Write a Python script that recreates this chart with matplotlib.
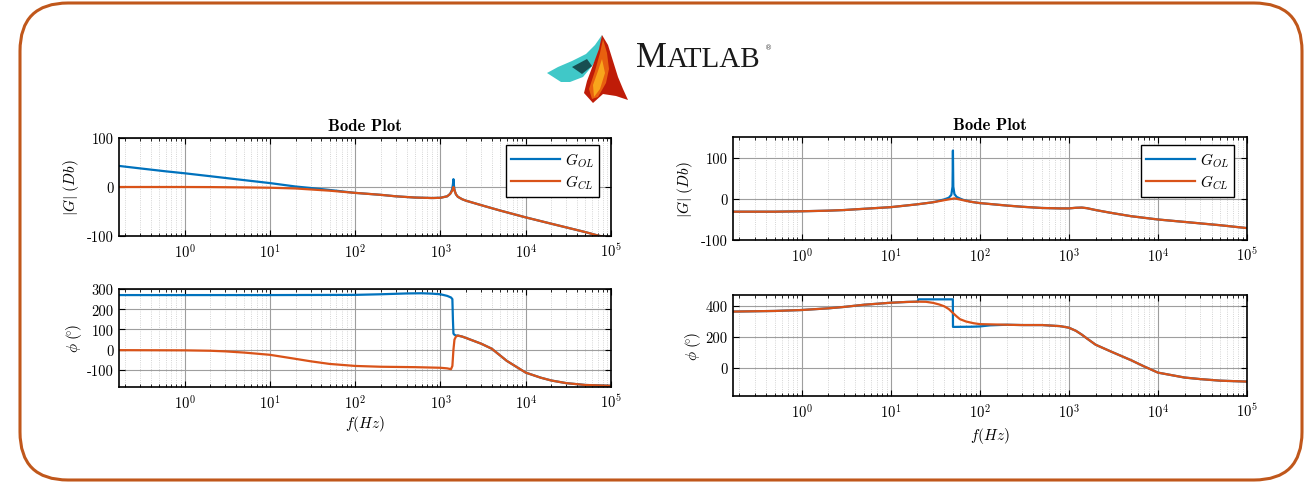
import numpy as np
import matplotlib
matplotlib.use('Agg')
import matplotlib.pyplot as plt
from matplotlib.patches import FancyBboxPatch, Polygon
from matplotlib.ticker import FixedLocator, FuncFormatter, LogLocator, NullFormatter

plt.rcParams['mathtext.fontset'] = 'cm'
plt.rcParams['axes.unicode_minus'] = False
plt.rcParams['font.family'] = 'cmr10'

BLUE = '#0072BD'
ORANGE = '#D95319'

# ---- left panel: magnitude (dB) ----
f_mag_ol_l = [0.17, 0.3, 0.6, 1, 2, 5, 10, 20, 30, 50, 100, 200, 300, 500, 800, 1000,
              1200, 1300, 1370, 1400, 1420, 1440, 1470, 1520, 1600, 1800, 2000, 3000,
              5000, 1e4, 2e4, 5e4, 7e4, 1e5]
mag_ol_l = [43, 38, 32, 28, 22, 14, 8, 1, -2, -6, -12, -16, -19, -21.5, -22.5, -22,
            -19, -14, -5, 5, 16, 3, -8, -15, -20, -25, -28, -37,
            -48, -62, -75, -92, -99, -105]
f_mag_cl_l = [0.17, 1, 2, 5, 10, 20, 30, 50, 100, 200, 300, 500, 800, 1000,
              1200, 1300, 1370, 1400, 1420, 1440, 1470, 1520, 1600, 1800, 2000, 3000,
              5000, 1e4, 2e4, 5e4, 7e4, 1e5]
mag_cl_l = [0, 0, -0.2, -0.8, -1.5, -3, -5, -7.5, -12, -16, -19, -21.5, -22.5, -22,
            -19, -14, -8, -3, 0, -3, -8, -15, -20, -25, -28, -37,
            -48, -62, -75, -92, -99, -105]

# ---- left panel: phase (deg) ----
f_ph_ol_l = [0.17, 1, 10, 100, 200, 400, 600, 800, 1000, 1200, 1330, 1380, 1400, 1420,
             1450, 1520, 1600, 1800, 2000, 3000, 4000, 6000, 1e4, 1.5e4, 2e4, 3e4, 5e4, 1e5]
ph_ol_l = [270, 270, 270, 271, 274, 278, 279, 277, 274, 266, 258, 250, 150, 80,
           75, 70, 70, 65, 58, 30, 5, -55, -113, -138, -152, -165, -174, -178]
f_ph_cl_l = [0.17, 1, 2, 3, 5, 10, 20, 30, 50, 100, 200, 500, 1000, 1200, 1330, 1380,
             1420, 1460, 1520, 1600, 1800, 2000, 3000, 4000, 6000, 1e4, 1.5e4, 2e4, 3e4,
             5e4, 1e5]
ph_cl_l = [-2, -3, -5, -8, -14, -25, -45, -57, -70, -80, -84, -86, -89, -92, -96, -80,
           0, 50, 65, 70, 65, 58, 30, 5, -55, -113, -138, -152, -165,
           -174, -178]

# ---- right panel: magnitude (dB) ----
f_mag_cl_r = [0.17, 0.5, 1, 2, 3, 5, 10, 20, 30, 40, 45, 48, 52, 56, 65, 80, 100, 200,
              300, 500, 800, 1000, 1200, 1400, 1600, 2000, 3000, 5000, 1e4, 2e4, 5e4, 1e5]
mag_cl_r = [-31, -31, -30, -28.5, -27, -24, -20, -13, -8, -3, -1, 0, 1.5, 0, -3, -7, -10,
            -16, -19, -22, -23, -23, -21.5, -21, -22.5, -27, -34, -42, -50, -56, -64, -71]
f_mag_ol_r = [0.17, 0.5, 1, 2, 3, 5, 10, 20, 30, 40, 45, 48, 49.5, 50, 50.5, 52, 55, 60,
              65, 80, 100, 200, 300, 500, 800, 1000, 1200, 1400, 1600, 2000, 3000, 5000,
              1e4, 2e4, 5e4, 1e5]
mag_ol_r = [-31, -31, -30, -28.5, -27, -24, -20, -13, -8, -1, 3, 10, 30, 118, 30, 12, 5, 1,
            -2, -7, -10, -16, -19, -22, -23, -23, -21.5, -21, -22.5, -27, -34, -42,
            -50, -56, -64, -71]

# ---- right panel: phase (deg) ----
f_ph_cl_r = [0.17, 0.5, 1, 2, 3, 5, 10, 15, 20, 25, 30, 35, 40, 45, 50, 55, 60, 70, 85,
             100, 200, 300, 500, 800, 1000, 1200, 1400, 1600, 2000, 3000, 5000, 7000,
             1e4, 2e4, 3e4, 5e4, 1e5]
ph_cl_r = [364, 368, 374, 385, 394, 408, 421, 426, 428, 427, 420, 410, 398, 380, 355, 333,
           315, 300, 289, 283, 279, 277, 277, 270, 260, 240, 215, 190, 150, 105, 50, 10,
           -30, -62, -72, -82, -88]
f_ph_ol_r = [0.17, 0.5, 1, 2, 3, 5, 10, 15, 20, 20.5, 49.9, 50.1, 80, 100, 130, 200, 300,
             500, 800, 1000, 1200, 1400, 1600, 2000, 3000, 5000, 7000, 1e4, 2e4, 3e4, 5e4,
             1e5]
ph_ol_r = [364, 368, 374, 385, 394, 408, 421, 426, 428, 443, 443, 265, 266, 268, 275, 279,
           277, 277, 270, 260, 240, 215, 190, 150, 105, 50, 10, -30, -62, -72, -82, -88]

decades = [1, 10, 100, 1000, 1e4, 1e5]


def style_axes(ax, ylim, yticks):
    ax.set_xscale('log')
    ax.set_xlim(0.17, 1e5)
    ax.set_ylim(*ylim)
    ax.xaxis.set_major_locator(FixedLocator(decades))
    ax.xaxis.set_minor_locator(LogLocator(base=10, subs=np.arange(2, 10), numticks=30))
    ax.xaxis.set_major_formatter(FuncFormatter(
        lambda v, p: r'$\mathrm{10}^{\mathrm{%d}}$' % int(round(np.log10(v)))))
    ax.xaxis.set_minor_formatter(NullFormatter())
    ax.yaxis.set_major_locator(FixedLocator(yticks))
    ax.yaxis.set_major_formatter(FuncFormatter(lambda v, p: '%d' % v))
    ax.tick_params(which='both', direction='in', top=True, right=True, labelsize=10.5,
                   color='black')
    ax.tick_params(which='major', length=4, width=0.8, pad=4)
    ax.tick_params(which='minor', length=2, width=0.6)
    ax.grid(which='major', color='0.62', lw=0.8)
    ax.grid(which='minor', axis='x', color='0.78', lw=0.6, ls=':')
    for s in ax.spines.values():
        s.set_linewidth(1.2)
        s.set_color('black')


def add_legend(ax, anchor):
    ax.legend(loc='upper right', bbox_to_anchor=anchor, borderaxespad=0, fontsize=11,
              handlelength=3.2, handletextpad=0.3, borderpad=0.35, labelspacing=0.25,
              fancybox=False, framealpha=1, edgecolor='black')


fig = plt.figure(figsize=(13.04, 4.85), dpi=100)

# background: frame and logo drawn in pixel coordinates
bg = fig.add_axes([0, 0, 1, 1], zorder=-1)
bg.set_xlim(0, 1304)
bg.set_ylim(485, 0)
bg.axis('off')
bg.add_patch(FancyBboxPatch((20, 4), 1282, 477, boxstyle='round,pad=0,rounding_size=48',
                            ec='#C0571B', fc='none', lw=2.2))
# teal sheet
bg.add_patch(Polygon([(547, 74), (558, 68), (572, 62), (586, 55), (595, 46), (602, 36),
                      (600, 52), (593, 66), (583, 78), (570, 83), (561, 83)],
                     closed=True, fc='#40C8C8', ec='none'))
bg.add_patch(Polygon([(572, 68), (587, 60), (592, 67), (582, 75)],
                     closed=True, fc='#174F52', ec='none'))
# red / orange peak
bg.add_patch(Polygon([(602, 36), (608, 46), (613, 62), (618, 78), (623, 90), (628, 101),
                      (616, 97), (603, 95), (593, 104), (584, 94), (587, 82), (593, 66),
                      (599, 50)],
                     closed=True, fc='#BF1C08', ec='none'))
bg.add_patch(Polygon([(603, 40), (607, 54), (609, 70), (606, 84), (598, 98), (592, 100),
                      (589, 90), (595, 72), (600, 54)],
                     closed=True, fc='#E8600F', ec='none'))
bg.add_patch(Polygon([(602, 60), (605, 74), (600, 90), (594, 98), (593, 86), (598, 72)],
                     closed=True, fc='#F8A51C', ec='none'))
bg.text(636, 67, 'M', fontsize=25, family='Liberation Serif', color='#1a1a1a', va='baseline')
bg.text(667, 67, 'ATLAB', fontsize=21, family='Liberation Serif', color='#1a1a1a',
        va='baseline')
bg.text(765, 50, '\u00ae', fontsize=5, family='DejaVu Sans', color='#444444')

ax1 = fig.add_axes([119 / 1304, 1 - 237 / 485, 492 / 1304, 98 / 485])
ax2 = fig.add_axes([119 / 1304, 1 - 388 / 485, 492 / 1304, 98 / 485])
ax3 = fig.add_axes([733 / 1304, 1 - 241 / 485, 514 / 1304, 103 / 485])
ax4 = fig.add_axes([733 / 1304, 1 - 397 / 485, 514 / 1304, 101 / 485])

phase_label = r'$\phi\ (\!{}^{\circ}\!)$'

# left magnitude
ax1.plot(f_mag_ol_l, mag_ol_l, color=BLUE, lw=1.6, label=r'$G_{OL}$')
ax1.plot(f_mag_cl_l, mag_cl_l, color=ORANGE, lw=1.6, label=r'$G_{CL}$')
style_axes(ax1, (-100, 100), [-100, 0, 100])
ax1.set_title('Bode Plot', fontfamily='cmb10', fontsize=12, pad=6)
ax1.set_ylabel(r'$|G|\ (Db)$', fontsize=11, labelpad=4)
add_legend(ax1, (0.976, 0.929))

# left phase
ax2.plot(f_ph_ol_l, ph_ol_l, color=BLUE, lw=1.6)
ax2.plot(f_ph_cl_l, ph_cl_l, color=ORANGE, lw=1.6)
style_axes(ax2, (-184, 300), [-100, 0, 100, 200, 300])
ax2.set_ylabel(phase_label, fontsize=11, labelpad=2)
ax2.set_xlabel(r'$f(Hz)$', fontsize=11, labelpad=2)

# right magnitude
ax3.plot(f_mag_ol_r, mag_ol_r, color=BLUE, lw=1.6, label=r'$G_{OL}$')
ax3.plot(f_mag_cl_r, mag_cl_r, color=ORANGE, lw=1.6, label=r'$G_{CL}$')
style_axes(ax3, (-100, 151), [-100, 0, 100])
ax3.set_title('Bode Plot', fontfamily='cmb10', fontsize=12, pad=6)
ax3.set_ylabel(r'$|G|\ (Db)$', fontsize=11, labelpad=4)
add_legend(ax3, (0.975, 0.922))

# right phase
ax4.plot(f_ph_ol_r, ph_ol_r, color=BLUE, lw=1.6)
ax4.plot(f_ph_cl_r, ph_cl_r, color=ORANGE, lw=1.6)
style_axes(ax4, (-181, 471), [0, 200, 400])
ax4.set_ylabel(phase_label, fontsize=11, labelpad=2)
ax4.set_xlabel(r'$f(Hz)$', fontsize=11, labelpad=4)

fig.savefig('out.png', dpi=100)
